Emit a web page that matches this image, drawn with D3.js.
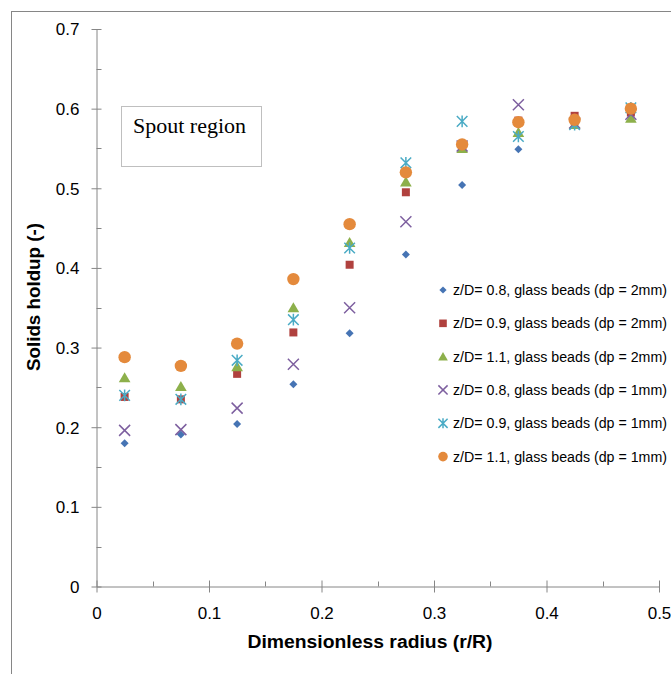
<!DOCTYPE html>
<html lang="en">
<head>
    <meta charset="UTF-8">
    <style>
        body { margin: 0; background: #fff; }
        svg { display: block; }
        .tick text { font-family: "Liberation Sans", Arial, sans-serif; font-size: 17px; fill: #000; }
        .legend text { font-family: "Liberation Sans", Arial, sans-serif; font-size: 14px; fill: #000; }
    </style>
    <script src="https://d3js.org/d3.v7.min.js"></script>
    <title>Solids holdup</title>
</head>
<body>
<script>
// radial positions (r/R)
const radius = [0.025, 0.075, 0.125, 0.175, 0.225, 0.275, 0.325, 0.375, 0.425, 0.475];

// solids holdup, one list per series
const z08_2mm = [0.180, 0.191, 0.204, 0.254, 0.318, 0.417, 0.504, 0.549, 0.585, 0.593];
const z09_2mm = [0.238, 0.235, 0.267, 0.319, 0.404, 0.495, 0.553, 0.585, 0.591, 0.595];
const z11_2mm = [0.262, 0.251, 0.276, 0.350, 0.432, 0.508, 0.550, 0.570, 0.580, 0.588];
const z08_1mm = [0.196, 0.197, 0.224, 0.279, 0.350, 0.458, 0.553, 0.605, 0.582, 0.593];
const z09_1mm = [0.240, 0.235, 0.284, 0.335, 0.425, 0.532, 0.584, 0.565, 0.580, 0.601];
const z11_1mm = [0.288, 0.277, 0.305, 0.386, 0.455, 0.520, 0.555, 0.583, 0.586, 0.600];

const seriesNames = [
    "z/D= 0.8, glass beads (dp = 2mm)",
    "z/D= 0.9, glass beads (dp = 2mm)",
    "z/D= 1.1, glass beads (dp = 2mm)",
    "z/D= 0.8, glass beads (dp = 1mm)",
    "z/D= 0.9, glass beads (dp = 1mm)",
    "z/D= 1.1, glass beads (dp = 1mm)"
];

const xTicks = [0, 0.1, 0.2, 0.3, 0.4, 0.5];
const yTicks = [0, 0.1, 0.2, 0.3, 0.4, 0.5, 0.6, 0.7];

const series = [
    { name: seriesNames[0], values: z08_2mm, shape: "diamond", color: "#4674B4" },
    { name: seriesNames[1], values: z09_2mm, shape: "square",  color: "#B0413E" },
    { name: seriesNames[2], values: z11_2mm, shape: "triangle", color: "#8DB04B" },
    { name: seriesNames[3], values: z08_1mm, shape: "x",       color: "#7D5F9F" },
    { name: seriesNames[4], values: z09_1mm, shape: "star",    color: "#4AABC5" },
    { name: seriesNames[5], values: z11_1mm, shape: "circle",  color: "#E48A3C" }
];

const width = 671, height = 674;
const axisColor = "#868686";

const svg = d3.select("body").append("svg")
    .attr("width", width)
    .attr("height", height);

// chart area border (runs off the right and bottom edge)
svg.append("rect")
    .attr("x", 11.5).attr("y", 11.5)
    .attr("width", 720).attr("height", 720)
    .attr("fill", "none")
    .attr("stroke", axisColor);

const x = d3.scaleLinear().domain([0, 0.5]).range([96.5, 659]);
const y = d3.scaleLinear().domain([0, 0.7]).range([586.5, 29]);

// minor ticks
const xMinor = d3.range(0.05, 0.5, 0.1);
const yMinor = d3.range(0.05, 0.7, 0.1);
svg.append("g").selectAll("line").data(xMinor).join("line")
    .attr("x1", d => Math.round(x(d)) + 0.5).attr("x2", d => Math.round(x(d)) + 0.5)
    .attr("y1", y(0) - 5).attr("y2", y(0))
    .attr("stroke", axisColor);
svg.append("g").selectAll("line").data(yMinor).join("line")
    .attr("y1", d => Math.round(y(d)) + 0.5).attr("y2", d => Math.round(y(d)) + 0.5)
    .attr("x1", x(0)).attr("x2", x(0) + 5)
    .attr("stroke", axisColor);

// x axis, major ticks cross the line
const xAxis = svg.append("g")
    .attr("transform", `translate(0,${y(0)})`)
    .call(d3.axisBottom(x).tickValues(xTicks).tickSize(6).tickSizeOuter(0)
        .tickFormat(d => d === 0 ? "0" : d3.format(".1f")(d)));
xAxis.select(".domain").attr("stroke", axisColor);
xAxis.selectAll(".tick line").attr("stroke", axisColor).attr("y1", -6);
xAxis.selectAll(".tick text").attr("dy", "0.71em").attr("y", 20);

const yAxis = svg.append("g")
    .attr("transform", `translate(${x(0)},0)`)
    .call(d3.axisLeft(y).tickValues(yTicks).tickSize(5).tickSizeOuter(0)
        .tickFormat(d => d === 0 ? "0" : d3.format(".1f")(d)));
yAxis.select(".domain").attr("stroke", axisColor);
yAxis.selectAll(".tick line").attr("stroke", axisColor).attr("x1", 5);
yAxis.selectAll(".tick text").attr("x", -17).attr("dy", "0.35em");

// marker shapes in the Excel style
function markerPath(shape, r) {
    switch (shape) {
        case "diamond":
            return `M0,${-r}L${r},0L0,${r}L${-r},0Z`;
        case "square":
            return `M${-r},${-r}H${r}V${r}H${-r}Z`;
        case "triangle":
            return `M0,${-r * 1.05}L${r * 1.1},${r * 0.85}H${-r * 1.1}Z`;
        case "x":
            return `M${-r},${-r}L${r},${r}M${r},${-r}L${-r},${r}`;
        case "star":
            return `M${-r},${-r}L${r},${r}M${r},${-r}L${-r},${r}M0,${-r * 1.1}V${r * 1.1}`;
        default:
            return d3.arc()({ innerRadius: 0, outerRadius: r, startAngle: 0, endAngle: 2 * Math.PI });
    }
}
const plotR = { diamond: 4, square: 4, triangle: 5.3, x: 5.5, star: 5.3, circle: 6.2 };
const legendR = { diamond: 3.6, square: 3.8, triangle: 4.4, x: 4.6, star: 4.6, circle: 4.8 };

function styleMarker(sel, s) {
    if (s.shape === "x" || s.shape === "star") {
        sel.attr("fill", "none").attr("stroke", s.color).attr("stroke-width", 1.5);
    } else {
        sel.attr("fill", s.color).attr("stroke", "none");
    }
}

series.forEach(s => {
    const pts = radius.map((r, i) => ({ r: r, v: s.values[i] }));
    svg.append("g").selectAll("path").data(pts).join("path")
        .attr("d", markerPath(s.shape, plotR[s.shape]))
        .attr("transform", d => `translate(${x(d.r)},${y(d.v)})`)
        .call(styleMarker, s);
});

// legend
const legend = svg.append("g").attr("class", "legend");
const legendRow = d3.scaleLinear().domain([0, 5]).range([290, 456.6]);
series.forEach((s, i) => {
    legend.append("path")
        .attr("d", markerPath(s.shape, legendR[s.shape]))
        .attr("transform", `translate(443,${legendRow(i)})`)
        .call(styleMarker, s);
    legend.append("text")
        .attr("x", 453)
        .attr("y", legendRow(i) + 5)
        .attr("textLength", 214)
        .attr("lengthAdjust", "spacingAndGlyphs")
        .text(s.name);
});

// text box
svg.append("rect")
    .attr("x", 121.5).attr("y", 106.5)
    .attr("width", 140).attr("height", 60)
    .attr("fill", "#fff")
    .attr("stroke", "#BFBFBF");
svg.append("text")
    .attr("x", 133).attr("y", 133)
    .attr("font-family", "'Liberation Serif', 'Times New Roman', serif")
    .attr("font-size", 20)
    .attr("textLength", 113)
    .attr("lengthAdjust", "spacingAndGlyphs")
    .text("Spout region");

// axis titles
svg.append("text")
    .attr("x", 370).attr("y", 648)
    .attr("text-anchor", "middle")
    .attr("font-family", "'Liberation Sans', Arial, sans-serif")
    .attr("font-size", 18).attr("font-weight", "bold")
    .attr("textLength", 245)
    .attr("lengthAdjust", "spacingAndGlyphs")
    .text("Dimensionless radius (r/R)");
svg.append("text")
    .attr("transform", "translate(40,297) rotate(-90)")
    .attr("text-anchor", "middle")
    .attr("font-family", "'Liberation Sans', Arial, sans-serif")
    .attr("font-size", 18).attr("font-weight", "bold")
    .attr("textLength", 148)
    .attr("lengthAdjust", "spacingAndGlyphs")
    .text("Solids holdup (-)");
</script>
</body>
</html>
